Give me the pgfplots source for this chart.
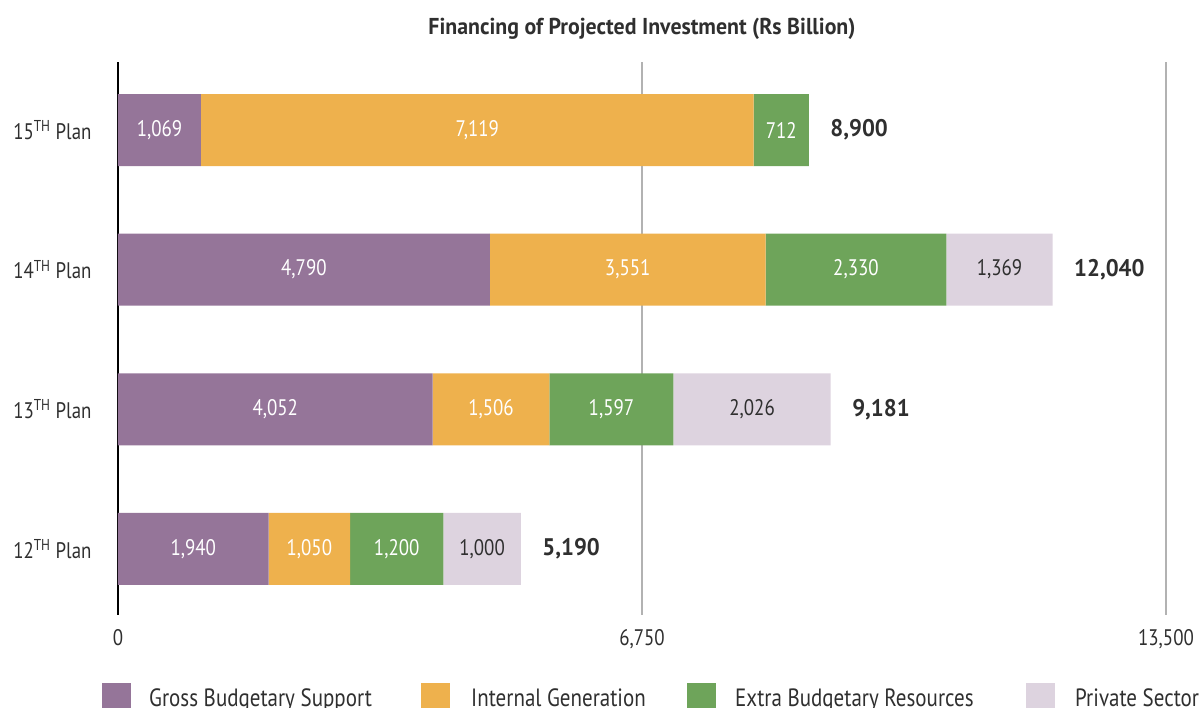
\documentclass[border=0pt]{standalone}
\usepackage{pgfplots}
\pgfplotsset{compat=1.18}
\usepackage{fontspec}
\setmainfont{PT Sans}[FakeStretch=0.84]
\newfontfamily\totf{PT Sans}[FakeStretch=0.95]
\definecolor{gbs}{HTML}{957599}
\definecolor{ig}{HTML}{EEB14D}
\definecolor{ebr}{HTML}{6EA45A}
\definecolor{ps}{HTML}{DDD3DF}
\definecolor{txt}{HTML}{2F2F2F}
\definecolor{gridc}{HTML}{B2B2B2}
\newcommand{\lab}{\fontsize{22.5}{24}\selectfont}
\newcommand{\leg}{\fontsize{25}{27}\selectfont}
\newcommand{\blab}{\totf\fontsize{24}{26}\selectfont\bfseries}
\begin{document}
\begin{tikzpicture}
\path[use as bounding box] (-118pt,615pt) rectangle (1086pt,-93pt);
\begin{axis}[
  scale only axis, width=1048pt, height=553pt,
  xmin=0, xmax=13500, ymin=-0.4726, ymax=3.487,
  xbar stacked, bar width=72pt,
  ytick={0,1,2,3},
  yticklabels={12\textsuperscript{TH} Plan,13\textsuperscript{TH} Plan,14\textsuperscript{TH} Plan,15\textsuperscript{TH} Plan},
  xtick={0,6750,13500},
  xticklabels={0,{6,750},{13,500}},
  scaled x ticks=false,
  xmajorgrids, grid style={draw=gridc, line width=2pt},
  axis lines*=left,
  x axis line style={draw=none},
  y axis line style={draw=black, line width=2pt},
  tick style={draw=none},
  tick label style={font=\lab, text=txt},
  xticklabel style={yshift=-11pt},
  yticklabel style={xshift=-23pt},
  clip=false,
  title={\totf\fontsize{23}{26}\selectfont\bfseries Financing of Projected Investment (Rs Billion)},
  title style={at={(0.5,1)}, anchor=south, yshift=13pt, text=txt},
]
\addplot[fill=gbs, draw=none] coordinates {(1940,0) (4052,1) (4790,2) (1069,3)};
\addplot[fill=ig, draw=none] coordinates {(1050,0) (1506,1) (3551,2) (7119,3)};
\addplot[fill=ebr, draw=none] coordinates {(1200,0) (1597,1) (2330,2) (712,3)};
\addplot[fill=ps, draw=none] coordinates {(1000,0) (2026,1) (1369,2) (0,3)};
\coordinate (a1) at (axis cs:534.5,3);
\coordinate (a2) at (axis cs:4628.5,3);
\coordinate (a3) at (axis cs:8544,3);
\coordinate (b1) at (axis cs:2395,2);
\coordinate (b2) at (axis cs:6565.5,2);
\coordinate (b3) at (axis cs:9506,2);
\coordinate (b4) at (axis cs:11355.5,2);
\coordinate (c1) at (axis cs:2026,1);
\coordinate (c2) at (axis cs:4805,1);
\coordinate (c3) at (axis cs:6356.5,1);
\coordinate (c4) at (axis cs:8168,1);
\coordinate (d1) at (axis cs:970,0);
\coordinate (d2) at (axis cs:2465,0);
\coordinate (d3) at (axis cs:3590,0);
\coordinate (d4) at (axis cs:4690,0);
\coordinate (ta) at (axis cs:8900,3);
\coordinate (tb) at (axis cs:12040,2);
\coordinate (tc) at (axis cs:9181,1);
\coordinate (td) at (axis cs:5190,0);
\end{axis}
\begin{scope}[xshift=-3pt]
\node[font=\lab, text=white] at (a1) {1,069};
\node[font=\lab, text=white] at (a2) {7,119};
\node[font=\lab, text=white] at (a3) {712};
\node[font=\lab, text=white] at (b1) {4,790};
\node[font=\lab, text=white] at (b2) {3,551};
\node[font=\lab, text=white] at (b3) {2,330};
\node[font=\lab, text=txt] at (b4) {1,369};
\node[font=\lab, text=white] at (c1) {4,052};
\node[font=\lab, text=white] at (c2) {1,506};
\node[font=\lab, text=white] at (c3) {1,597};
\node[font=\lab, text=txt] at (c4) {2,026};
\node[font=\lab, text=white] at (d1) {1,940};
\node[font=\lab, text=white] at (d2) {1,050};
\node[font=\lab, text=white] at (d3) {1,200};
\node[font=\lab, text=txt] at (d4) {1,000};
\end{scope}
\node[font=\blab, text=txt, anchor=west, xshift=18pt] at (ta) {8,900};
\node[font=\blab, text=txt, anchor=west, xshift=18pt] at (tb) {12,040};
\node[font=\blab, text=txt, anchor=west, xshift=18pt] at (tc) {9,181};
\node[font=\blab, text=txt, anchor=west, xshift=18pt] at (td) {5,190};
\fill[gbs] (-16pt,-68pt) rectangle (13pt,-95pt);
\node[font=\leg, text=txt, anchor=base west, inner sep=0pt] at (31pt,-91.5pt) {Gross Budgetary Support};
\fill[ig] (303pt,-68pt) rectangle (332pt,-95pt);
\node[font=\leg, text=txt, anchor=base west, inner sep=0pt] at (353pt,-91.5pt) {Internal Generation};
\fill[ebr] (569pt,-68pt) rectangle (598pt,-95pt);
\node[font=\leg, text=txt, anchor=base west, inner sep=0pt] at (617pt,-91.5pt) {Extra Budgetary Resources};
\fill[ps] (908pt,-68pt) rectangle (937pt,-95pt);
\node[font=\leg, text=txt, anchor=base west, inner sep=0pt] at (957pt,-91.5pt) {Private Sector};
\end{tikzpicture}
\end{document}
